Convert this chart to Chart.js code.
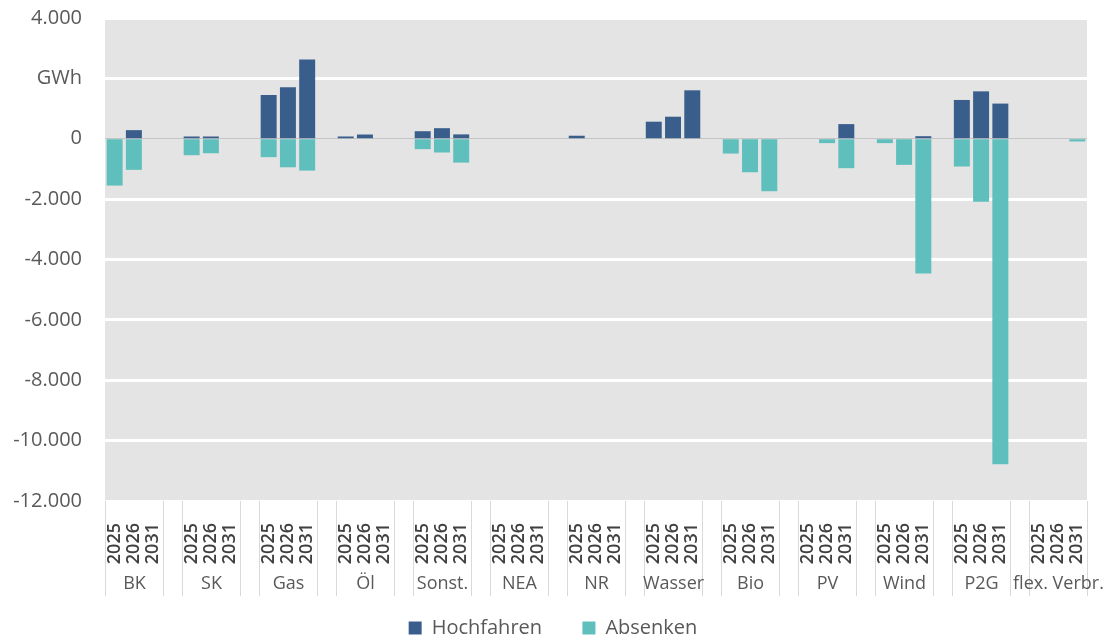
<!DOCTYPE html>
<html>
<head>
<meta charset="utf-8">
<script src="https://cdn.jsdelivr.net/npm/chart.js@4/dist/chart.umd.min.js"></script>
<style>
  body { margin: 0; background: #fff; }
  #wrap { width: 1106px; height: 641px; }
</style>
</head>
<body>
<div id="wrap"><canvas id="myChart"></canvas></div>
<script>
// Kategorien
const groups = ['BK', 'SK', 'Gas', 'Öl', 'Sonst.', 'NEA', 'NR', 'Wasser', 'Bio', 'PV', 'Wind', 'P2G', 'flex. Verbr.'];
const years = ['2025', '2026', '2031'];

// GWh je Gruppe und Jahr (2025, 2026, 2031)
const hochfahren = [
    0, 285, 0,
    75, 75, 0,
    1450, 1705, 2625,
    75, 140, 0,
    250, 350, 145,
    0, 0, 0,
    100, 0, 0,
    565, 730, 1605,
    0, 0, 0,
    0, 0, 485,
    0, 0, 85,
    1285, 1570, 1165,
    0, 0, 0
];
const absenken = [
    -1550, -1030, 0,
    -545, -480, 0,
    -610, -945, -1055,
    0, 0, 0,
    -345, -455, -790,
    0, 0, 0,
    0, 0, 0,
    0, 0, 0,
    -490, -1110, -1740,
    0, -145, -975,
    -145, -865, -4465,
    -920, -2085, -10780,
    0, 0, -90
];

// y-Achse
const yMin = -12000;
const yMax = 4000;
const yStep = 2000;

// Leerspalte zwischen den Gruppen einfügen
const labels = [];
const dataHoch = [];
const dataAbs = [];
groups.forEach((g, gi) => {
    years.forEach((y, yi) => {
        labels.push(y);
        dataHoch.push(hochfahren[gi * 3 + yi]);
        dataAbs.push(absenken[gi * 3 + yi]);
    });
    if (gi < groups.length - 1) {
        labels.push('');
        dataHoch.push(null);
        dataAbs.push(null);
    }
});

const fmt = (v) => {
    if (v === 2000) return 'GWh';
    const s = Math.abs(v).toString().replace(/\B(?=(\d{3})+(?!\d))/g, '.');
    return (v < 0 ? '-' : '') + s;
};

// grauer Hintergrund der Zeichenfläche
const plotBg = {
    id: 'plotBg',
    beforeDraw(chart) {
        const { ctx, chartArea: a } = chart;
        ctx.save();
        ctx.fillStyle = '#e4e4e4';
        ctx.fillRect(a.left, a.top, a.right - a.left, a.bottom - a.top);
        ctx.restore();
    }
};

// Gruppenbeschriftung + Trennlinien unter der x-Achse
const groupAxis = {
    id: 'groupAxis',
    afterDraw(chart) {
        const { ctx, chartArea: a } = chart;
        const x = chart.scales.x;
        const pitch = x.getPixelForValue(1) - x.getPixelForValue(0);
        ctx.save();
        ctx.strokeStyle = '#d9d9d9';
        ctx.lineWidth = 1;
        ctx.fillStyle = '#595959';
        ctx.font = '18px "Open Sans"';
        ctx.textAlign = 'center';
        ctx.textBaseline = 'middle';
        groups.forEach((g, gi) => {
            const first = gi * 4;
            const l = Math.round(x.getPixelForValue(first) - pitch / 2) + 0.5;
            const r = Math.round(x.getPixelForValue(first + 2) + pitch / 2) + 0.5;
            ctx.beginPath();
            ctx.moveTo(l, a.bottom);
            ctx.lineTo(l, a.bottom + 95);
            ctx.moveTo(r, a.bottom);
            ctx.lineTo(r, a.bottom + 95);
            ctx.stroke();
            ctx.fillText(g, (l + r) / 2, a.bottom + 83);
        });
        ctx.restore();
    }
};

const ctx = document.getElementById('myChart');
new Chart(ctx, {
    type: 'bar',
    data: {
        labels: labels,
        datasets: [{
            label: 'Hochfahren',
            data: dataHoch,
            backgroundColor: '#3a5e8c',
            barPercentage: 0.83,
            categoryPercentage: 1
        }, {
            label: 'Absenken',
            data: dataAbs,
            backgroundColor: '#5fbfbc',
            barPercentage: 0.83,
            categoryPercentage: 1
        }]
    },
    options: {
        responsive: true,
        maintainAspectRatio: false,
        animation: false,
        layout: { padding: { top: 18, right: 0, left: 0, bottom: -7 } },
        plugins: {
            tooltip: { enabled: false },
            legend: {
                position: 'bottom',
                labels: {
                    boxWidth: 13,
                    boxHeight: 13,
                    padding: 4,
                    color: '#595959',
                    font: { family: 'Open Sans', size: 20 },
                    generateLabels(chart) {
                        const items = Chart.defaults.plugins.legend.labels.generateLabels(chart);
                        items[0].text += '       ';
                        return items;
                    }
                }
            }
        },
        scales: {
            x: {
                stacked: true,
                grid: { display: false },
                border: { display: false },
                ticks: {
                    autoSkip: false,
                    minRotation: 90,
                    maxRotation: 90,
                    padding: 14,
                    color: '#404040',
                    font: { family: 'Open Sans', size: 18, weight: '600' }
                },
                afterFit(s) {
                    s.height = 113;
                    s.paddingLeft = 0;
                    s.paddingRight = 19;
                }
            },
            y: {
                stacked: true,
                min: yMin,
                max: yMax,
                border: { display: false },
                grid: {
                    drawTicks: false,
                    color: (c) => c.tick.value === 0 ? '#c4c4c4' : '#ffffff',
                    lineWidth: (c) => c.tick.value === 0 ? 1 : 3
                },
                ticks: {
                    stepSize: yStep,
                    padding: 23,
                    color: '#595959',
                    font: { family: 'Open Sans', size: 20 },
                    callback: (v) => fmt(v)
                },
                afterFit(s) {
                    s.width = 105;
                    s.paddingTop = 12;
                    s.paddingBottom = 12;
                }
            }
        }
    },
    plugins: [plotBg, groupAxis]
});
</script>
</body>
</html>
